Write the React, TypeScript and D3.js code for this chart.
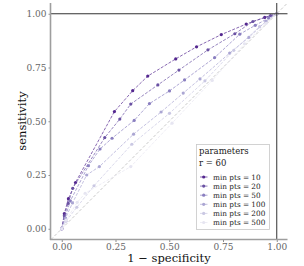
import { useRef, useEffect } from "react";
import * as d3 from "d3";

// roc points per min pts setting (r = 60)
const minPts = [10, 20, 50, 100, 200, 500];
const fpr10 = [0, 0.012, 0.031, 0.064, 0.245, 0.33, 0.4, 0.53, 0.627, 0.742, 0.858, 0.944, 1];
const tpr10 = [0, 0.07, 0.14, 0.215, 0.545, 0.642, 0.71, 0.79, 0.846, 0.903, 0.952, 0.983, 1];
const fpr20 = [0, 0.012, 0.03, 0.051, 0.2, 0.27, 0.321, 0.447, 0.545, 0.68, 0.805, 0.889, 0.971, 1];
const tpr20 = [0, 0.06, 0.118, 0.188, 0.424, 0.51, 0.58, 0.669, 0.738, 0.832, 0.907, 0.964, 0.991, 1];
const fpr50 = [0, 0.015, 0.04, 0.124, 0.178, 0.234, 0.337, 0.408, 0.501, 0.571, 0.711, 0.828, 0.9, 0.962, 1];
const tpr50 = [0, 0.05, 0.13, 0.293, 0.371, 0.421, 0.504, 0.582, 0.641, 0.692, 0.796, 0.905, 0.946, 0.98, 1];
const fpr100 = [0, 0.018, 0.05, 0.116, 0.175, 0.334, 0.462, 0.565, 0.643, 0.781, 0.87, 0.95, 1];
const tpr100 = [0, 0.05, 0.12, 0.25, 0.289, 0.44, 0.543, 0.631, 0.697, 0.817, 0.89, 0.965, 1];
const fpr200 = [0, 0.02, 0.07, 0.15, 0.326, 0.501, 0.666, 0.8, 0.92, 1];
const tpr200 = [0, 0.035, 0.1, 0.2, 0.393, 0.537, 0.688, 0.83, 0.94, 1];
const fpr500 = [0, 0.02, 0.072, 0.109, 0.321, 0.513, 0.7, 0.85, 0.95, 1];
const tpr500 = [0, 0.04, 0.123, 0.165, 0.289, 0.491, 0.69, 0.86, 0.955, 1];
const colors = ["#54278f", "#6a51a3", "#8a7fc0", "#aba6d3", "#cac8e3", "#e6e5f1"];
const ticks = [0, 0.25, 0.5, 0.75, 1];

const series = [
  [fpr10, tpr10],
  [fpr20, tpr20],
  [fpr50, tpr50],
  [fpr100, tpr100],
  [fpr200, tpr200],
  [fpr500, tpr500],
];

const font = "DejaVu Serif";

const RocChart = () => {
  const svgRef = useRef<SVGSVGElement>(null);

  useEffect(() => {
    const svg = d3.select(svgRef.current);
    svg.selectAll("*").remove();
    const x = d3.scaleLinear().domain([-0.05, 1.05]).range([51, 287.5]);
    const y = d3.scaleLinear().domain([-0.05, 1.05]).range([239.5, 3]);

    // diagonal
    svg
      .append("line")
      .attr("x1", x(-0.05))
      .attr("y1", y(-0.05))
      .attr("x2", x(1.05))
      .attr("y2", y(1.05))
      .attr("stroke", "#b3b3b3")
      .attr("stroke-width", 0.7)
      .attr("stroke-dasharray", "3,2");

    const line = d3
      .line<[number, number]>()
      .x((d) => x(d[0]))
      .y((d) => y(d[1]));

    series.forEach(([f, t], i) => {
      const pts = f.map((v, j) => [v, t[j]] as [number, number]);
      svg
        .append("path")
        .attr("d", line(pts))
        .attr("fill", "none")
        .attr("stroke", colors[i])
        .attr("stroke-width", 0.7)
        .attr("stroke-dasharray", "3,1.5");
      svg
        .append("g")
        .selectAll("circle")
        .data(pts)
        .join("circle")
        .attr("cx", (d) => x(d[0]))
        .attr("cy", (d) => y(d[1]))
        .attr("r", 1.6)
        .attr("fill", colors[i]);
    });

    // reference lines at 1
    svg
      .append("line")
      .attr("x1", x(-0.05))
      .attr("x2", x(1.05))
      .attr("y1", y(1))
      .attr("y2", y(1))
      .attr("stroke", "#333")
      .attr("stroke-width", 1);
    svg
      .append("line")
      .attr("x1", x(1))
      .attr("x2", x(1))
      .attr("y1", y(1.05))
      .attr("y2", y(-0.05))
      .attr("stroke", "#333")
      .attr("stroke-width", 1);

    // axes
    const fmt = d3.format(".2f");
    const yAxis = d3.axisLeft(y).tickValues(ticks).tickFormat((d) => fmt(d as number)).tickSize(2).tickPadding(2);
    const xAxis = d3.axisBottom(x).tickValues(ticks).tickFormat((d) => fmt(d as number)).tickSize(2).tickPadding(2);
    const gy = svg.append("g").attr("transform", "translate(50.5,0)").call(yAxis);
    const gx = svg.append("g").attr("transform", "translate(0,240)").call(xAxis);
    [gx, gy].forEach((g) => {
      g.select(".domain").remove();
      g.selectAll(".tick line").attr("stroke", "#8c8c8c");
      g.selectAll(".tick text")
        .attr("fill", "#666")
        .attr("font-family", font)
        .attr("font-size", 9);
    });
    svg
      .append("line")
      .attr("x1", 50.5)
      .attr("x2", 50.5)
      .attr("y1", 3)
      .attr("y2", 240)
      .attr("stroke", "#9e9e9e")
      .attr("stroke-width", 1.6);
    svg
      .append("line")
      .attr("x1", 50)
      .attr("x2", 287.5)
      .attr("y1", 239.5)
      .attr("y2", 239.5)
      .attr("stroke", "#9e9e9e")
      .attr("stroke-width", 1.6);

    // titles
    svg
      .append("text")
      .attr("x", 169)
      .attr("y", 262)
      .attr("text-anchor", "middle")
      .attr("font-family", font)
      .attr("font-size", 11.5)
      .attr("fill", "#111")
      .text("1 \u2212 specificity");
    svg
      .append("text")
      .attr("transform", "translate(26,121) rotate(-90)")
      .attr("text-anchor", "middle")
      .attr("font-family", font)
      .attr("font-size", 11.5)
      .attr("fill", "#111")
      .text("sensitivity");

    // legend
    const lg = svg.append("g");
    lg.append("rect")
      .attr("x", 196.5)
      .attr("y", 144.5)
      .attr("width", 73)
      .attr("height", 85)
      .attr("fill", "white")
      .attr("stroke", "#c8c8c8")
      .attr("stroke-width", 0.8);
    lg.append("text")
      .attr("x", 199)
      .attr("y", 153.5)
      .attr("font-family", font)
      .attr("font-size", 8.5)
      .attr("fill", "#222")
      .text("parameters");
    lg.append("text")
      .attr("x", 199)
      .attr("y", 166)
      .attr("font-family", font)
      .attr("font-size", 8.5)
      .attr("fill", "#222")
      .text("r = 60");
    minPts.forEach((m, i) => {
      const yy = 177 + i * 9.1;
      lg.append("line")
        .attr("x1", 200)
        .attr("x2", 207.5)
        .attr("y1", yy)
        .attr("y2", yy)
        .attr("stroke", colors[i])
        .attr("stroke-width", 0.7);
      lg.append("circle").attr("cx", 203.7).attr("cy", yy).attr("r", 1.6).attr("fill", colors[i]);
      lg.append("text")
        .attr("x", 213)
        .attr("y", yy + 2.5)
        .attr("font-family", font)
        .attr("font-size", 7.3)
        .attr("fill", "#222")
        .text(`min pts = ${m}`);
    });
  }, []);

  return <svg ref={svgRef} width={304} height={266} style={{ position: "absolute", left: 0, top: 0, background: "white" }}></svg>;
};

export default function App() {
  return <RocChart />;
}
